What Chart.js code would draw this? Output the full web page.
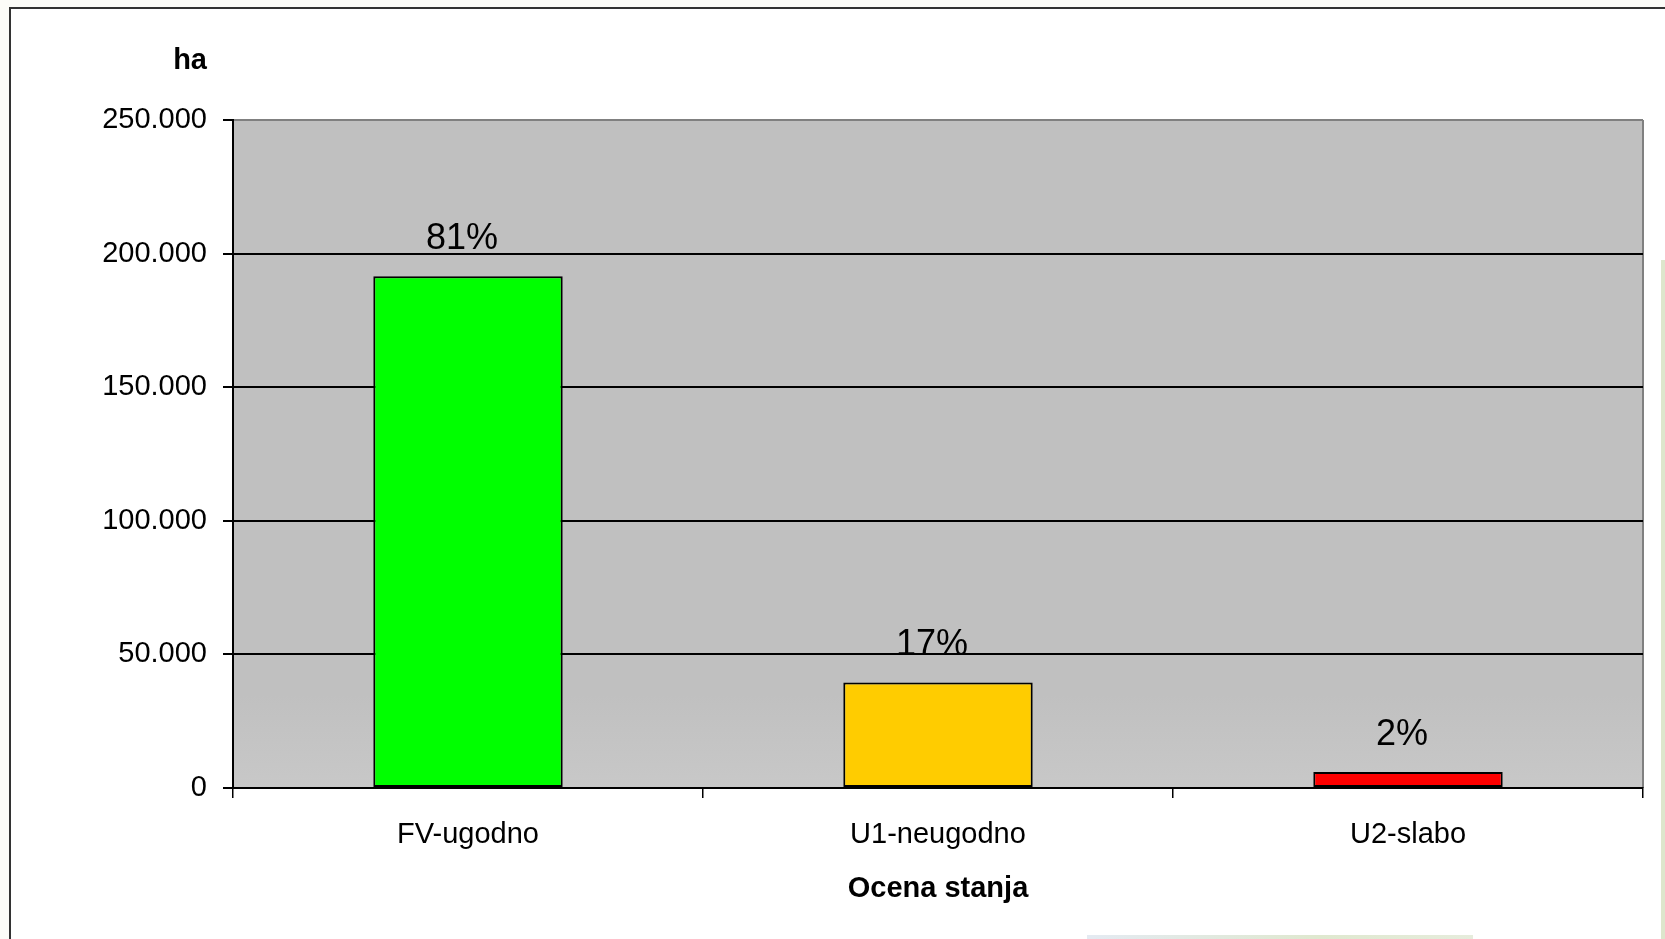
<!DOCTYPE html>
<html>
<head>
<meta charset="utf-8">
<title>Ocena stanja</title>
<script src="https://cdn.jsdelivr.net/npm/chart.js@4.4.0/dist/chart.umd.min.js"></script>
<style>
    html, body { margin: 0; padding: 0; background: #fcfcf8; overflow: hidden; }
    #frame { position: absolute; left: 9px; top: 7px; width: 1656px; height: 932px; background: #fff;
             border-left: 2px solid #333; border-top: 2px solid #333; }
    #edge-right { position: absolute; left: 1661px; top: 260px; width: 4px; height: 679px; background: #dde6cc; }
    #edge-bottom { position: absolute; left: 1087px; top: 935px; width: 386px; height: 4px;
                   background: linear-gradient(to right, #e4eaf2, #dfe8cf 60%, #e6ecdc); }
    #chart { position: absolute; left: 0; top: 0; }
</style>
</head>
<body>
<div id="frame"></div>
<div id="edge-right"></div>
<div id="edge-bottom"></div>
<canvas id="chart" width="1665" height="939"></canvas>
<script>
    // values (ha)
    const categories = ['FV-ugodno', 'U1-neugodno', 'U2-slabo'];
    const areaHa = [191500, 39500, 6000];
    const shareLabels = ['81%', '17%', '2%'];
    const barColors = ['#00ff00', '#ffcc00', '#ff0000'];
    const yTickLabels = ['0', '50.000', '100.000', '150.000', '200.000', '250.000'];

    Chart.defaults.font.family = "'Liberation Sans', Arial, sans-serif";
    Chart.defaults.color = '#000';

    // gray plot area, right border, percent labels and the "ha" unit
    const plotDecor = {
        id: 'plotDecor',
        beforeDraw(chart) {
            const { ctx, chartArea: a } = chart;
            ctx.save();
            const g = ctx.createLinearGradient(0, a.top, 0, a.bottom);
            g.addColorStop(0, '#c0c0c0');
            g.addColorStop(0.86, '#c0c0c0');
            g.addColorStop(1, '#c8c8c8');
            ctx.fillStyle = g;
            ctx.fillRect(a.left, a.top, a.right - a.left, a.bottom - a.top);
            ctx.strokeStyle = '#808080';
            ctx.lineWidth = 2;
            ctx.beginPath();
            ctx.moveTo(a.right, a.top);
            ctx.lineTo(a.right, a.bottom);
            ctx.stroke();
            ctx.restore();
        },
        afterDatasetsDraw(chart) {
            const { ctx } = chart;
            const bars = chart.getDatasetMeta(0).data;
            ctx.save();
            ctx.fillStyle = '#000';
            ctx.font = "36px 'Liberation Sans', Arial, sans-serif";
            ctx.textAlign = 'center';
            ctx.textBaseline = 'alphabetic';
            bars.forEach((bar, i) => {
                ctx.fillText(shareLabels[i], bar.x - 6, bar.y - 27);
            });
            ctx.restore();
        },
        afterDraw(chart) {
            const { ctx } = chart;
            const y = chart.scales.y;
            ctx.save();
            ctx.fillStyle = '#000';
            ctx.font = "bold 29px 'Liberation Sans', Arial, sans-serif";
            ctx.textAlign = 'right';
            ctx.textBaseline = 'alphabetic';
            ctx.fillText('ha', y.right - 26, 69);
            ctx.restore();
        }
    };

    new Chart(document.getElementById('chart'), {
        type: 'bar',
        data: {
            labels: categories,
            datasets: [{
                data: areaHa,
                backgroundColor: barColors,
                borderColor: '#000',
                borderWidth: 2,
                borderSkipped: false,
                barPercentage: 1,
                categoryPercentage: 0.403
            }]
        },
        options: {
            responsive: false,
            devicePixelRatio: 1,
            animation: false,
            layout: { padding: { top: 120, right: 22, left: 0, bottom: 0 } },
            plugins: {
                legend: { display: false },
                tooltip: { enabled: false }
            },
            scales: {
                x: {
                    grid: { offset: true, drawOnChartArea: false, tickLength: 10, color: '#000', lineWidth: 1.5 },
                    border: { color: '#000', width: 2 },
                    ticks: { color: '#000', font: { size: 29 }, padding: 20, maxRotation: 0 },
                    title: {
                        display: true,
                        text: 'Ocena stanja',
                        color: '#000',
                        font: { size: 29, weight: 'bold' },
                        padding: { top: 0, bottom: 33 }
                    },
                    afterFit: s => { s.height = 151; }
                },
                y: {
                    min: 0,
                    max: 250000,
                    ticks: {
                        stepSize: 50000,
                        color: '#000',
                        font: { size: 29 },
                        padding: 16,
                        callback: (v, i) => yTickLabels[i]
                    },
                    grid: {
                        color: ctx => (ctx.tick && ctx.tick.value === 250000 ? '#808080' : '#000'),
                        tickColor: '#000',
                        lineWidth: 2,
                        tickLength: 10
                    },
                    border: { color: '#000', width: 2 },
                    afterFit: s => { s.width = 233; }
                }
            }
        },
        plugins: [plotDecor]
    });
</script>
</body>
</html>
